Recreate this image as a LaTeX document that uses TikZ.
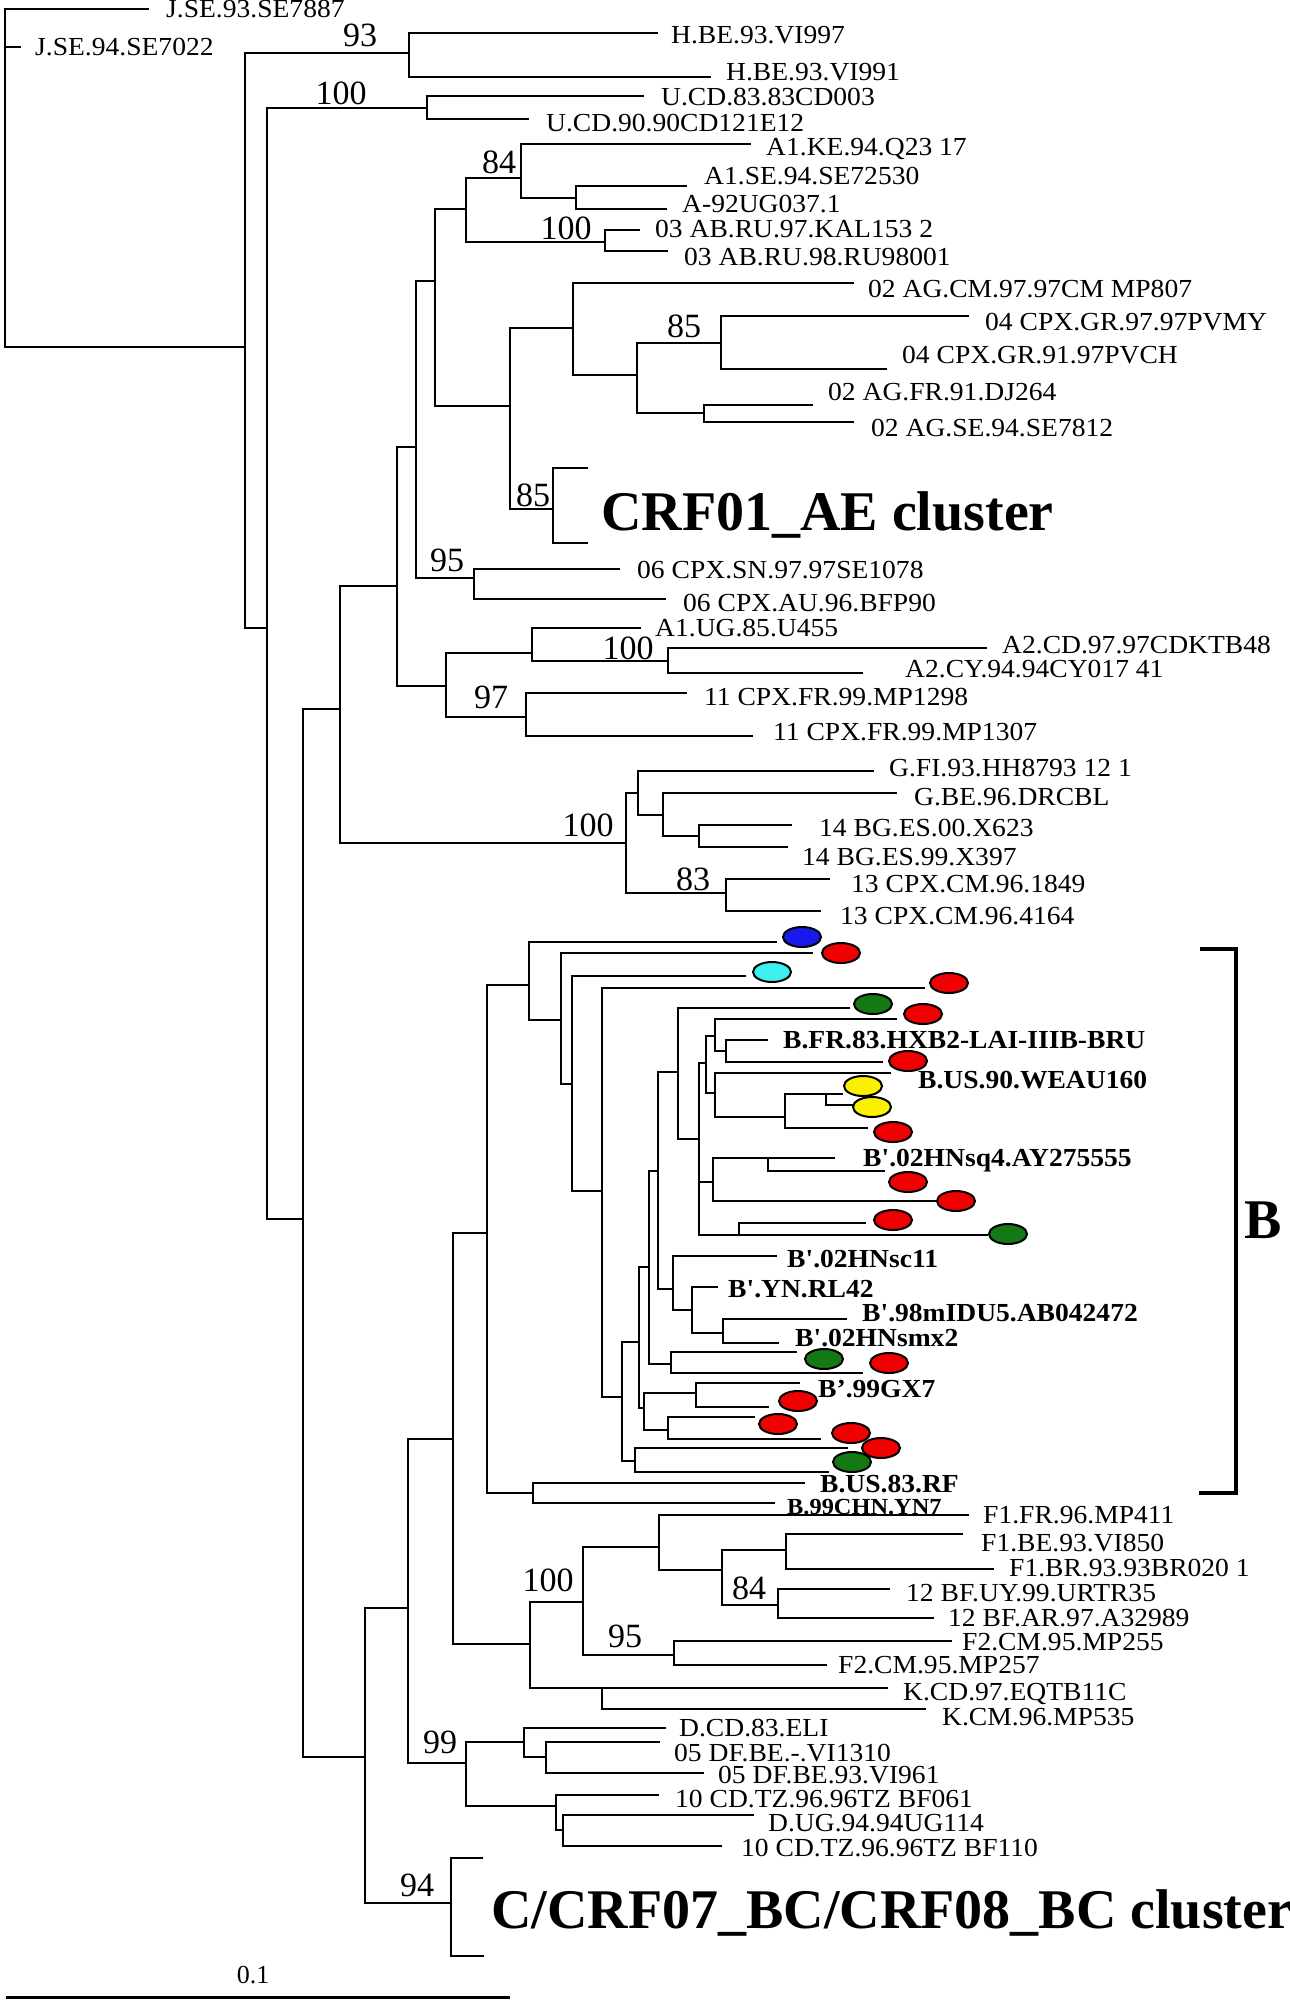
\documentclass[tikz,border=0pt]{standalone}
\usepackage{fontspec}
\usetikzlibrary{shapes.geometric}
\newfontfamily\lfam{Liberation Serif}[FakeStretch=1.06]
\newfontfamily\pfam{Liberation Serif}
\newcommand\lfnt{\lfam\fontsize{26}{26}\selectfont}
\newcommand\sfnt{\lfam\fontsize{23}{23}\selectfont}
\newcommand\bofnt{\pfam\fontsize{34}{34}\selectfont}
\newcommand\bgfnt{\pfam\bfseries\fontsize{56}{56}\selectfont}
\newcommand\scfnt{\pfam\fontsize{26}{26}\selectfont}
\definecolor{eblue}{RGB}{25,25,235}
\definecolor{ered}{RGB}{240,0,0}
\definecolor{ecyan}{RGB}{60,240,240}
\definecolor{egreen}{RGB}{20,120,20}
\definecolor{eyellow}{RGB}{250,240,0}
\newcommand\tbin[3]{\draw[branch] (#2) -| (#1) |- (#3);}
\begin{document}
\begin{tikzpicture}[x=1pt,y=-1pt,
  branch/.style={line width=2.3pt, line join=miter},
  lab/.style={anchor=west, inner sep=0pt, text height=17pt, text depth=0pt, font=\lfnt},
  blab/.style={anchor=west, inner sep=0pt, text height=17pt, text depth=0pt, font=\lfnt\bfseries},
  boot/.style={inner sep=0pt, text height=23pt, text depth=0pt, font=\bofnt},
  biglab/.style={anchor=west, inner sep=0pt, text height=37pt, text depth=0pt, font=\bgfnt},
  dot/.style={ellipse, draw=black, line width=2pt, minimum width=38pt, minimum height=20pt, inner sep=0pt}]
\useasboundingbox[fill=white] (0,0) rectangle (1290,2000);

% ---------- coordinates (upper part) ----------
\coordinate (r) at (5,347);
\coordinate (jA) at (149,9);
\coordinate (jB) at (21,47);
\coordinate (n245) at (245,347);
\coordinate (h) at (409,53);
\coordinate (n267) at (267,628);
\coordinate (hA) at (658,33); \coordinate (hB) at (711,77);
\coordinate (u) at (427,108); \coordinate (n303) at (303,1219);
\coordinate (uA) at (644,96); \coordinate (uB) at (529,119);
\coordinate (n340) at (340,709); \coordinate (n365) at (365,1757);
\coordinate (n397) at (397,586); \coordinate (g) at (626,843);
\coordinate (n416) at (416,447); \coordinate (n446) at (446,686);
\coordinate (n435) at (435,281); \coordinate (n474) at (474,578);
\coordinate (n466) at (466,209); \coordinate (n510) at (510,406);
\coordinate (n521) at (521,178); \coordinate (n605) at (605,242);
\coordinate (a1ke) at (751,144); \coordinate (n576) at (576,198);
\coordinate (a1se) at (687,186); \coordinate (a92) at (667,209);
\coordinate (ab97) at (640,230); \coordinate (ab98) at (668,251);
\coordinate (n573) at (573,328); \coordinate (c01) at (553,509);
\coordinate (agcm) at (854,283); \coordinate (n637) at (637,375);
\coordinate (n721) at (721,343); \coordinate (n704) at (704,413);
\coordinate (cpx97) at (969,316); \coordinate (cpx91) at (887,369);
\coordinate (agfr) at (813,405); \coordinate (agse) at (854,422);
\coordinate (c01t) at (588,468); \coordinate (c01b) at (588,543);
\coordinate (sn) at (620,569); \coordinate (au) at (666,599);
\coordinate (n532) at (532,653); \coordinate (n526) at (526,717);
\coordinate (a1ug) at (641,628); \coordinate (n668) at (668,661);
\coordinate (a2cd) at (987,648); \coordinate (a2cy) at (863,673);
\coordinate (mp98) at (687,693); \coordinate (mp07) at (753,736);
\coordinate (n638) at (638,793); \coordinate (n726) at (726,893);
\coordinate (gfi) at (874,771); \coordinate (n663) at (663,815);
\coordinate (gbe) at (897,793); \coordinate (n699g) at (699,836);
\coordinate (bg00) at (792,825); \coordinate (bg99) at (788,847);
\coordinate (cm49) at (830,879); \coordinate (cm64) at (821,911);

% ---------- coordinates (lower part) ----------
\coordinate (n408) at (408,1608); \coordinate (cbr) at (451,1903);
\coordinate (cbt) at (483,1858); \coordinate (cbb) at (484,1956);
\coordinate (n453) at (453,1439); \coordinate (n466b) at (466,1763);
\coordinate (n487) at (487,1233); \coordinate (n530) at (530,1644);
\coordinate (n529) at (529,985); \coordinate (n533) at (533,1493);
\coordinate (lb1) at (777,942); \coordinate (n561) at (561,1020);
\coordinate (lb2) at (813,953); \coordinate (n572) at (572,1084);
\coordinate (lb3) at (746,976); \coordinate (n602) at (602,1191);
\coordinate (lb4) at (925,988); \coordinate (n622) at (622,1397);
\coordinate (n639) at (639,1342); \coordinate (n635) at (635,1461);
\coordinate (n649) at (649,1267); \coordinate (n644) at (644,1408);
\coordinate (n658) at (658,1171); \coordinate (n671) at (671,1364);
\coordinate (n678) at (678,1072); \coordinate (n673) at (673,1289);
\coordinate (lb5) at (850,1008); \coordinate (n699) at (699,1139);
\coordinate (n706) at (706,1063); \coordinate (n713) at (713,1182); \coordinate (lb6) at (988,1235);
\coordinate (s739) at (739,1235); \coordinate (lb7) at (866,1223);
\coordinate (n715) at (715,1036); \coordinate (n715b) at (715,1093);
\coordinate (lb8) at (897,1019); \coordinate (n726b) at (726,1051);
\coordinate (hxb2) at (768,1040); \coordinate (lb9) at (883,1062);
\coordinate (weau) at (891,1073); \coordinate (n785) at (785,1117);
\coordinate (ly1) at (843,1094); \coordinate (lb10) at (868,1128);
\coordinate (s826) at (826,1094); \coordinate (ly2) at (854,1105);
\coordinate (sq4) at (835,1158); \coordinate (lb11) at (937,1201);
\coordinate (s768) at (768,1158); \coordinate (lb12) at (885,1171);
\coordinate (sc11) at (777,1256); \coordinate (n692) at (692,1310);
\coordinate (rl42) at (718,1287); \coordinate (n723) at (723,1333);
\coordinate (idu5) at (847,1319); \coordinate (smx2) at (779,1343);
\coordinate (lb13) at (797,1352); \coordinate (lb14) at (863,1373);
\coordinate (n696) at (696,1393); \coordinate (n668b) at (668,1430);
\coordinate (gx7) at (800,1383); \coordinate (lb15) at (769,1407);
\coordinate (lb16) at (755,1417); \coordinate (lb17) at (821,1439);
\coordinate (lb18) at (848,1448); \coordinate (lb19) at (829,1472);
\coordinate (rf) at (805,1483); \coordinate (yn7) at (775,1503);
\coordinate (n583) at (583,1602); \coordinate (kcd) at (888,1688);
\coordinate (s602) at (602,1688); \coordinate (kcm) at (926,1709);
\coordinate (n659) at (659,1547); \coordinate (n674) at (674,1655);
\coordinate (f1fr) at (969,1515); \coordinate (n722f) at (722,1570);
\coordinate (n786) at (786,1550); \coordinate (n778) at (778,1605);
\coordinate (f1be) at (963,1534); \coordinate (f1br) at (994,1569);
\coordinate (bfuy) at (890,1589); \coordinate (bfar) at (934,1618);
\coordinate (f255) at (952,1641); \coordinate (f257) at (827,1665);
\coordinate (n524) at (524,1742); \coordinate (n556) at (556,1806);
\coordinate (dcd) at (666,1728); \coordinate (n546) at (546,1757);
\coordinate (df10) at (660,1742); \coordinate (df61) at (704,1773);
\coordinate (tz61) at (659,1795); \coordinate (n563) at (563,1830);
\coordinate (dug) at (754,1815); \coordinate (tz10) at (722,1846);

% ---------- branches ----------
\draw[branch] (jA) -| (r) -- (n245);
\draw[branch] (r |- jB) -- (jB);
\tbin{n245}{h}{n267}
\tbin{h}{hA}{hB}
\tbin{n267}{u}{n303}
\tbin{u}{uA}{uB}
\tbin{n303}{n340}{n365}
\tbin{n340}{n397}{g}
\tbin{n397}{n416}{n446}
\tbin{n416}{n435}{n474}
\tbin{n435}{n466}{n510}
\tbin{n466}{n521}{n605}
\tbin{n521}{a1ke}{n576}
\tbin{n576}{a1se}{a92}
\tbin{n605}{ab97}{ab98}
\tbin{n510}{n573}{c01}
\tbin{n573}{agcm}{n637}
\tbin{n637}{n721}{n704}
\tbin{n721}{cpx97}{cpx91}
\tbin{n704}{agfr}{agse}
\draw[branch] (c01t) -| (c01) |- (c01b);
\tbin{n474}{sn}{au}
\tbin{n446}{n532}{n526}
\tbin{n532}{a1ug}{n668}
\tbin{n668}{a2cd}{a2cy}
\tbin{n526}{mp98}{mp07}
\tbin{g}{n638}{n726}
\tbin{n638}{gfi}{n663}
\tbin{n663}{gbe}{n699g}
\tbin{n699g}{bg00}{bg99}
\tbin{n726}{cm49}{cm64}
\tbin{n365}{n408}{cbr}
\draw[branch] (cbt) -| (cbr) |- (cbb);
\tbin{n408}{n453}{n466b}
\tbin{n453}{n487}{n530}
\tbin{n487}{n529}{n533}
\tbin{n529}{lb1}{n561}
\tbin{n561}{lb2}{n572}
\tbin{n572}{lb3}{n602}
\tbin{n602}{lb4}{n622}
\tbin{n622}{n639}{n635}
\tbin{n639}{n649}{n644}
\tbin{n649}{n658}{n671}
\tbin{n658}{n678}{n673}
\tbin{n678}{lb5}{n699}
\tbin{n699}{n706}{lb6}
\draw[branch] (n699 |- n713) -- (n713);
\draw[branch] (s739) |- (lb7);
\tbin{n706}{n715}{n715b}
\tbin{n715}{lb8}{n726b}
\tbin{n726b}{hxb2}{lb9}
\tbin{n715b}{weau}{n785}
\tbin{n785}{ly1}{lb10}
\draw[branch] (s826) |- (ly2);
\tbin{n713}{sq4}{lb11}
\draw[branch] (s768) |- (lb12);
\tbin{n673}{sc11}{n692}
\tbin{n692}{rl42}{n723}
\tbin{n723}{idu5}{smx2}
\tbin{n671}{lb13}{lb14}
\tbin{n644}{n696}{n668b}
\tbin{n696}{gx7}{lb15}
\tbin{n668b}{lb16}{lb17}
\tbin{n635}{lb18}{lb19}
\tbin{n533}{rf}{yn7}
\tbin{n530}{n583}{kcd}
\draw[branch] (s602) |- (kcm);
\tbin{n583}{n659}{n674}
\tbin{n659}{f1fr}{n722f}
\tbin{n722f}{n786}{n778}
\tbin{n786}{f1be}{f1br}
\tbin{n778}{bfuy}{bfar}
\tbin{n674}{f255}{f257}
\tbin{n466b}{n524}{n556}
\tbin{n524}{dcd}{n546}
\tbin{n546}{df10}{df61}
\tbin{n556}{tz61}{n563}
\tbin{n563}{dug}{tz10}

% ---------- B bracket ----------
\coordinate (bt) at (1200,949); \coordinate (bx) at (1236,1220); \coordinate (bb) at (1199,1493);
\draw[line width=4pt, line join=miter] (bt) -| (bx) |- (bb);

% ---------- scale bar ----------
\coordinate (sb0) at (6,1997); \coordinate (sb1) at (510,1997);
\draw[line width=3pt] (sb0) -- (sb1);
\node[inner sep=0pt, text height=18pt, text depth=0pt, font=\scfnt] (sbl) at (253,1974) {0.1};

% ---------- coloured markers ----------
\node[dot, fill=eblue] (e1) at (802,937) {};
\node[dot, fill=ered] (e2) at (841,953) {};
\node[dot, fill=ecyan] (e3) at (772,972) {};
\node[dot, fill=ered] (e4) at (949,983) {};
\node[dot, fill=egreen] (e5) at (873,1004) {};
\node[dot, fill=ered] (e6) at (923,1014) {};
\node[dot, fill=ered] (e7) at (908,1061) {};
\node[dot, fill=eyellow] (e8) at (863,1086) {};
\node[dot, fill=eyellow] (e9) at (872,1107) {};
\node[dot, fill=ered] (e10) at (893,1132) {};
\node[dot, fill=ered] (e11) at (908,1182) {};
\node[dot, fill=ered] (e12) at (956,1201) {};
\node[dot, fill=ered] (e13) at (893,1220) {};
\node[dot, fill=egreen] (e14) at (1008,1234) {};
\node[dot, fill=egreen] (e15) at (824,1359) {};
\node[dot, fill=ered] (e16) at (889,1363) {};
\node[dot, fill=ered] (e17) at (798,1401) {};
\node[dot, fill=ered] (e18) at (778,1424) {};
\node[dot, fill=ered] (e19) at (851,1433) {};
\node[dot, fill=ered] (e20) at (881,1448) {};
\node[dot, fill=egreen] (e21) at (852,1462) {};

% ---------- leaf labels ----------
\node[lab] (t1) at (166,9) {J.SE.93.SE7887};
\node[lab] (t2) at (35,47) {J.SE.94.SE7022};
\node[lab] (t3) at (671,35) {H.BE.93.VI997};
\node[lab] (t4) at (726,72) {H.BE.93.VI991};
\node[lab] (t5) at (661,97) {U.CD.83.83CD003};
\node[lab] (t6) at (546,123) {U.CD.90.90CD121E12};
\node[lab] (t7) at (766,147) {A1.KE.94.Q23 17};
\node[lab] (t8) at (704,176) {A1.SE.94.SE72530};
\node[lab] (t9) at (682,204) {A-92UG037.1};
\node[lab] (t10) at (655,229) {03 AB.RU.97.KAL153 2};
\node[lab] (t11) at (684,257) {03 AB.RU.98.RU98001};
\node[lab] (t12) at (868,289) {02 AG.CM.97.97CM MP807};
\node[lab] (t13) at (985,322) {04 CPX.GR.97.97PVMY};
\node[lab] (t14) at (902,355) {04 CPX.GR.91.97PVCH};
\node[lab] (t15) at (828,392) {02 AG.FR.91.DJ264};
\node[lab] (t16) at (871,428) {02 AG.SE.94.SE7812};
\node[lab] (t17) at (637,570) {06 CPX.SN.97.97SE1078};
\node[lab] (t18) at (683,603) {06 CPX.AU.96.BFP90};
\node[lab] (t19) at (655,628) {A1.UG.85.U455};
\node[lab] (t20) at (1002,645) {A2.CD.97.97CDKTB48};
\node[lab] (t21) at (905,669) {A2.CY.94.94CY017 41};
\node[lab] (t22) at (704,697) {11 CPX.FR.99.MP1298};
\node[lab] (t23) at (773,732) {11 CPX.FR.99.MP1307};
\node[lab] (t24) at (889,768) {G.FI.93.HH8793 12 1};
\node[lab] (t25) at (914,797) {G.BE.96.DRCBL};
\node[lab] (t26) at (819,828) {14 BG.ES.00.X623};
\node[lab] (t27) at (802,857) {14 BG.ES.99.X397};
\node[lab] (t28) at (851,884) {13 CPX.CM.96.1849};
\node[lab] (t29) at (840,916) {13 CPX.CM.96.4164};
\node[blab] (t30) at (783,1040) {B.FR.83.HXB2-LAI-IIIB-BRU};
\node[blab] (t31) at (918,1080) {B.US.90.WEAU160};
\node[blab] (t32) at (863,1158) {B'.02HNsq4.AY275555};
\node[blab] (t33) at (787,1259) {B'.02HNsc11};
\node[blab] (t34) at (728,1289) {B'.YN.RL42};
\node[blab] (t35) at (862,1313) {B'.98mIDU5.AB042472};
\node[blab] (t36) at (795,1338) {B'.02HNsmx2};
\node[blab] (t37) at (818,1389) {B’.99GX7};
\node[blab] (t38) at (820,1484) {B.US.83.RF};
\node[anchor=west, inner sep=0pt, text height=15pt, text depth=0pt, font=\sfnt\bfseries] (t39) at (787,1507) {B.99CHN.YN7};
\node[lab] (t40) at (983,1515) {F1.FR.96.MP411};
\node[lab] (t41) at (981,1543) {F1.BE.93.VI850};
\node[lab] (t42) at (1009,1568) {F1.BR.93.93BR020 1};
\node[lab] (t43) at (906,1593) {12 BF.UY.99.URTR35};
\node[lab] (t44) at (948,1618) {12 BF.AR.97.A32989};
\node[lab] (t45) at (962,1642) {F2.CM.95.MP255};
\node[lab] (t46) at (838,1665) {F2.CM.95.MP257};
\node[lab] (t47) at (903,1692) {K.CD.97.EQTB11C};
\node[lab] (t48) at (942,1717) {K.CM.96.MP535};
\node[lab] (t49) at (679,1728) {D.CD.83.ELI};
\node[lab] (t50) at (674,1753) {05 DF.BE.-.VI1310};
\node[lab] (t51) at (718,1775) {05 DF.BE.93.VI961};
\node[lab] (t52) at (675,1799) {10 CD.TZ.96.96TZ BF061};
\node[lab] (t53) at (768,1823) {D.UG.94.94UG114};
\node[lab] (t54) at (741,1848) {10 CD.TZ.96.96TZ BF110};

% ---------- cluster labels ----------
\node[biglab] (k1) at (601,512) {CRF01\_AE cluster};
\node[biglab] (k2) at (491,1910) {C/CRF07\_BC/CRF08\_BC cluster};
\node[biglab] (k3) at (1244,1220) {B};

% ---------- bootstrap values ----------
\node[boot] (b1) at (360,35) {93};
\node[boot] (b2) at (341,93) {100};
\node[boot] (b3) at (499,162) {84};
\node[boot] (b4) at (566,228) {100};
\node[boot] (b5) at (684,326) {85};
\node[boot] (b6) at (533,495) {85};
\node[boot] (b7) at (447,560) {95};
\node[boot] (b8) at (628,648) {100};
\node[boot] (b9) at (491,697) {97};
\node[boot] (b10) at (588,825) {100};
\node[boot] (b11) at (693,879) {83};
\node[boot] (b12) at (548,1580) {100};
\node[boot] (b13) at (749,1588) {84};
\node[boot] (b14) at (625,1636) {95};
\node[boot] (b15) at (440,1742) {99};
\node[boot] (b16) at (417,1885) {94};
\end{tikzpicture}
\end{document}
